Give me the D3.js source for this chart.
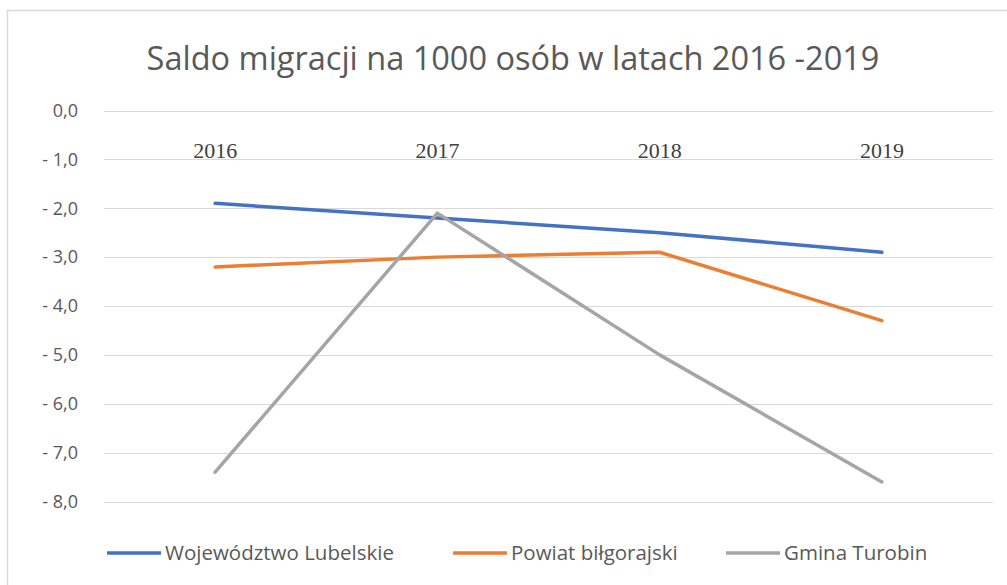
<!DOCTYPE html>
<html>
<head>
<meta charset="utf-8">
<script src="https://cdn.jsdelivr.net/npm/d3@7"></script>
<style>
  body { margin: 0; background: #fff; }
  svg { display: block; }
</style>
</head>
<body>
<div id="chart"></div>
<script>
'use strict';
// migration balance per 1000 people, 2016-2019

var years = ["2016", "2017", "2018", "2019"];
var seriesNames = ["Województwo Lubelskie", "Powiat biłgorajski", "Gmina Turobin"];
var seriesColors = ["#4472C4", "#ED7D31", "#A5A5A5"];
var lubelskie = [-1.9, -2.2, -2.5, -2.9];
var bilgorajski = [-3.2, -3.0, -2.9, -4.3];
var turobin = [-7.4, -2.1, -5.0, -7.6];
var yTicks = [0, -1, -2, -3, -4, -5, -6, -7, -8];

var seriesValues = [lubelskie, bilgorajski, turobin];

var W = 1007, H = 585;
var svg = d3.select("#chart").append("svg")
    .attr("width", W)
    .attr("height", H);

// chart area border
svg.append("rect")
    .attr("x", 7.5).attr("y", 10.5)
    .attr("width", W + 10).attr("height", H + 10)
    .attr("fill", "#fff")
    .attr("stroke", "#d9d9d9")
    .attr("stroke-width", 1.5);

var plot = {left: 104, right: 993, top: 110.5, bottom: 501.5};

var x = d3.scaleBand()
    .domain(years)
    .range([plot.left, plot.right]);
var y = d3.scaleLinear()
    .domain([0, -8])
    .range([plot.top, plot.bottom]);

// title
svg.append("text")
    .attr("x", 513)
    .attr("y", 70)
    .attr("text-anchor", "middle")
    .style("font-family", "'Open Sans', sans-serif")
    .style("font-size", "32.5px")
    .style("fill", "#595959")
    .text("Saldo migracji na 1000 osób w latach 2016 -2019");

// gridlines
svg.append("g")
    .selectAll("line")
    .data(yTicks)
    .enter()
        .append("line")
            .attr("x1", plot.left)
            .attr("x2", plot.right)
            .attr("y1", function(d) { return Math.round(y(d)) + 0.5; })
            .attr("y2", function(d) { return Math.round(y(d)) + 0.5; })
            .attr("stroke", "#d9d9d9")
            .attr("stroke-width", 1.2);

// y axis labels
var fmt = function(d) {
    var s = Math.abs(d).toFixed(1).replace(".", ",");
    return d < 0 ? "- " + s : s;
};
var axisLeft = svg.append("g")
    .attr("transform", "translate(" + (plot.left - 26) + ",0)")
    .call(d3.axisLeft(y).tickValues(yTicks).tickFormat(fmt).tickSize(0).tickPadding(0));
axisLeft.select(".domain").remove();
axisLeft.selectAll("text")
    .style("font-family", "'Open Sans', sans-serif")
    .style("font-size", "18px")
    .style("white-space", "pre")
    .style("fill", "#595959");

// category labels near the top
var axisTop = svg.append("g")
    .attr("transform", "translate(0," + (plot.top + 47) + ")")
    .call(d3.axisBottom(x).tickSize(0).tickPadding(0));
axisTop.select(".domain").remove();
axisTop.selectAll("text")
    .attr("dy", "0")
    .style("font-family", "'Liberation Serif', serif")
    .style("font-size", "22px")
    .style("fill", "#404040");

// lines
var line = d3.line()
    .x(function(d, i) { return x(years[i]) + x.bandwidth() / 2; })
    .y(function(d) { return y(d); });

svg.append("g")
    .selectAll("path")
    .data(seriesValues)
    .enter()
        .append("path")
            .attr("d", line)
            .attr("fill", "none")
            .attr("stroke", function(d, i) { return seriesColors[i]; })
            .attr("stroke-width", 3.5)
            .attr("stroke-linecap", "round")
            .attr("stroke-linejoin", "round");

// legend
var legendX = [107, 453, 726];
var legend = svg.append("g")
    .selectAll("g")
    .data(seriesNames)
    .enter()
        .append("g")
            .attr("transform", function(d, i) { return "translate(" + legendX[i] + ",553)"; });
legend.append("line")
    .attr("x1", 0).attr("x2", 54)
    .attr("y1", 0).attr("y2", 0)
    .attr("stroke", function(d, i) { return seriesColors[i]; })
    .attr("stroke-width", 3.5);
legend.append("text")
    .attr("x", 58)
    .attr("y", 7)
    .style("font-family", "'Open Sans', sans-serif")
    .style("font-size", "20.5px")
    .style("fill", "#595959")
    .text(function(d) { return d; });
</script>
</body>
</html>
